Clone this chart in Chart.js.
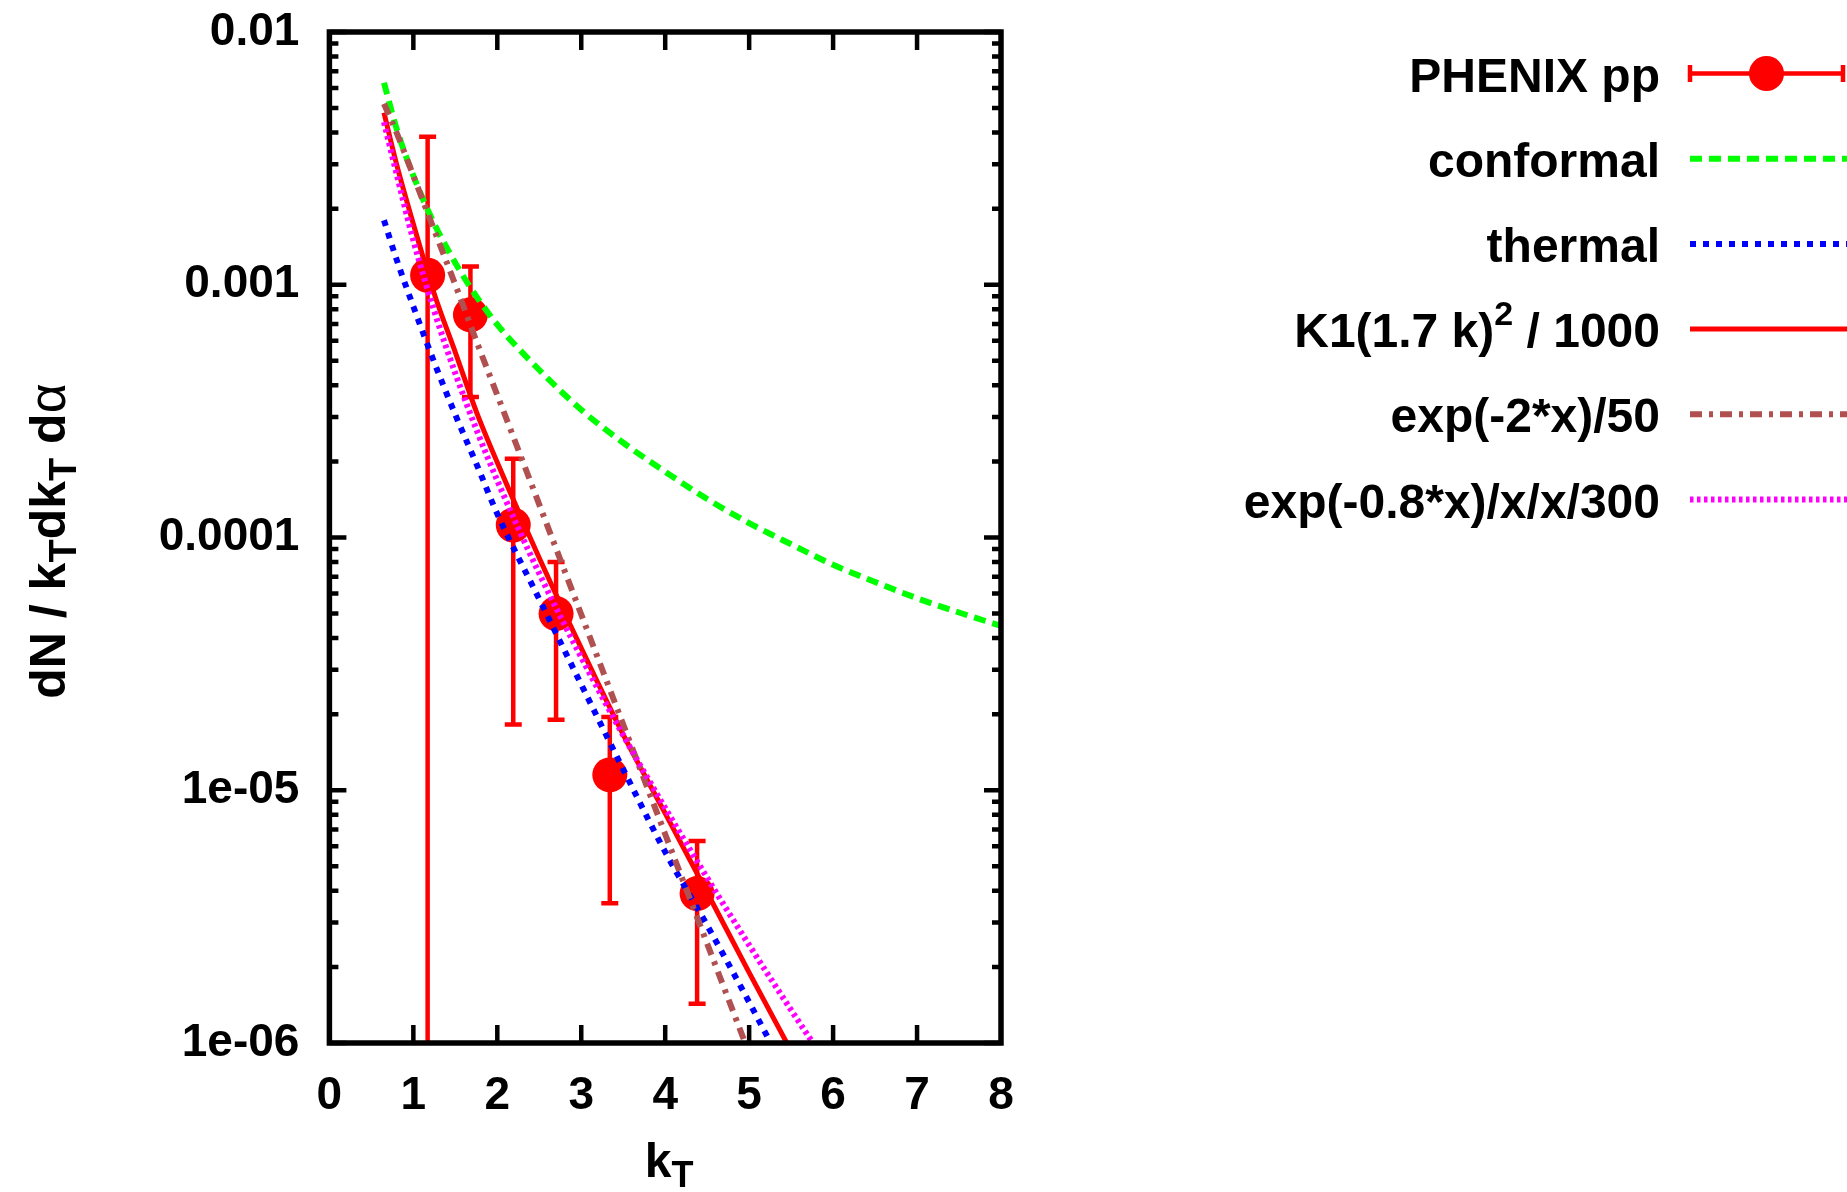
<!DOCTYPE html>
<html>
<head>
<meta charset="utf-8">
<title>dN / kT dkT da</title>
<script src="https://cdn.jsdelivr.net/npm/chart.js@4.4.0/dist/chart.umd.min.js"></script>
<style>
    body { margin: 0; background: #fff; }
    #wrap { width: 1847px; height: 1192px; }
</style>
</head>
<body>
<div id="wrap"><canvas id="ktChart" width="1847" height="1192"></canvas></div>
<script>
// PHENIX pp points (value, upper and lower end of the error bar)
var phenixK = [1.17, 1.68, 2.19, 2.70, 3.34, 4.38];
var phenixVal = [1.09e-3, 7.6e-4, 1.12e-4, 5.0e-5, 1.15e-5, 3.9e-6];
var phenixHi = [3.85e-3, 1.18e-3, 2.05e-4, 8.0e-5, 1.95e-5, 6.3e-6];
var phenixLo = [5e-7, 3.6e-4, 1.82e-5, 1.9e-5, 3.57e-6, 1.43e-6];

// curves at these kT values
var curveK = [0.65, 0.8, 1, 1.25, 1.5, 1.75, 2, 2.5, 3, 3.5, 4, 4.5, 5, 5.5, 6, 6.5, 7, 7.5, 8];
var conformal = [6.3e-3, 4.15e-3, 2.7e-3, 1.74e-3, 1.22e-3, 9.0e-4, 6.95e-4, 4.6e-4, 3.2e-4, 2.37e-4,
    1.82e-4, 1.42e-4, 1.14e-4, 9.4e-5, 7.8e-5, 6.67e-5, 5.75e-5, 5.05e-5, 4.47e-5];
var thermal = [1.8e-3, 1.26e-3, 8.2e-4, 4.92e-4, 3.06e-4, 1.96e-4, 1.24e-4, 5.7e-5, 2.62e-5, 1.21e-5,
    5.7e-6, 2.92e-6, 1.45e-6, 7.0e-7, null, null, null, null, null];
var besselK1 = [4.8e-3, 3.0e-3, 1.74e-3, 9.2e-4, 5.4e-4, 3.15e-4, 1.98e-4, 8.3e-5, 3.65e-5, 1.66e-5,
    8.1e-6, 3.94e-6, 1.9e-6, 9.3e-7, null, null, null, null, null];
var expTwo = [5.2e-3, 4.0e-3, 2.7e-3, 1.64e-3, 1.0e-3, 6.0e-4, 3.66e-4, 1.35e-4, 4.96e-5, 1.82e-5,
    6.7e-6, 2.47e-6, 9.1e-7, null, null, null, null, null, null];
var expPow = [4.4e-3, 2.75e-3, 1.5e-3, 7.85e-4, 4.46e-4, 2.68e-4, 1.68e-4, 7.2e-5, 3.36e-5, 1.65e-5,
    8.5e-6, 4.5e-6, 2.44e-6, 1.35e-6, 7.6e-7, null, null, null, null];

var xTickLabels = ['0', '1', '2', '3', '4', '5', '6', '7', '8'];
var yTickValues = [1e-6, 1e-5, 1e-4, 1e-3, 1e-2];
var yTickLabels = ['1e-06', '1e-05', '0.0001', '0.001', '0.01'];

var legendNames = ['PHENIX pp', 'conformal', 'thermal', 'K1(1.7 k)', 'exp(-2*x)/50', 'exp(-0.8*x)/x/x/300'];

var FONT = '"Liberation Sans", Arial, sans-serif';

function toPoints(xs, ys) {
    var out = [];
    for (var i = 0; i < xs.length; i++) {
        if (ys[i] !== null) out.push({ x: xs[i], y: ys[i] });
    }
    return out;
}

function curve(label, values, color, dash, width, order) {
    return {
        label: label,
        data: toPoints(curveK, values),
        showLine: true,
        borderColor: color,
        borderWidth: width,
        borderDash: dash,
        pointRadius: 0,
        cubicInterpolationMode: 'monotone',
        fill: false,
        clip: 0,
        order: order
    };
}

var datasets = [
    {
        label: legendNames[0],
        data: toPoints(phenixK, phenixVal),
        showLine: false,
        pointRadius: 17.5,
        pointHoverRadius: 17.5,
        pointBackgroundColor: '#ff0000',
        pointBorderWidth: 0,
        order: 6
    },
    curve(legendNames[1], conformal, '#00ff00', [12, 7], 6, 5),
    curve(legendNames[2], thermal, '#0000ff', [6, 7], 6, 4),
    curve(legendNames[3], besselK1, '#ff0000', [], 5, 3),
    curve(legendNames[4], expTwo, '#b05050', [12, 7, 4, 7], 6, 2),
    curve(legendNames[5], expPow, '#ff00ff', [3.5, 3.5], 6, 1)
];

// error bars, under the curves
var errorBars = {
    id: 'errorBars',
    beforeDatasetsDraw: function(chart) {
        var ctx = chart.ctx, ca = chart.chartArea;
        var xs = chart.scales.x, ys = chart.scales.y;
        ctx.save();
        ctx.beginPath();
        ctx.rect(ca.left, ca.top, ca.right - ca.left, ca.bottom - ca.top);
        ctx.clip();
        ctx.strokeStyle = '#ff0000';
        ctx.lineWidth = 4.5;
        for (var i = 0; i < phenixK.length; i++) {
            var px = xs.getPixelForValue(phenixK[i]);
            var top = ys.getPixelForValue(phenixHi[i]);
            var bot = ys.getPixelForValue(phenixLo[i]);
            ctx.beginPath();
            ctx.moveTo(px, top);
            ctx.lineTo(px, bot);
            ctx.moveTo(px - 8.5, top);
            ctx.lineTo(px + 8.5, top);
            ctx.moveTo(px - 8.5, bot);
            ctx.lineTo(px + 8.5, bot);
            ctx.stroke();
        }
        ctx.restore();
    }
};

// gnuplot style frame with inward ticks on all four sides
var frame = {
    id: 'frame',
    afterDatasetsDraw: function(chart) {
        var ctx = chart.ctx, ca = chart.chartArea;
        var xs = chart.scales.x, ys = chart.scales.y;
        ctx.save();
        ctx.strokeStyle = '#000';
        ctx.lineWidth = 4.5;
        ctx.beginPath();
        for (var k = 1; k < 8; k++) {
            var px = xs.getPixelForValue(k);
            ctx.moveTo(px, ca.bottom);
            ctx.lineTo(px, ca.bottom - 18);
            ctx.moveTo(px, ca.top);
            ctx.lineTo(px, ca.top + 18);
        }
        for (var d = -6; d <= -2; d++) {
            for (var m = 1; m <= 9; m++) {
                var v = m * Math.pow(10, d);
                if (v > 1e-2 * 1.0001) break;
                var py = ys.getPixelForValue(v);
                var len = m === 1 ? 17 : 9;
                ctx.moveTo(ca.left, py);
                ctx.lineTo(ca.left + len, py);
                ctx.moveTo(ca.right, py);
                ctx.lineTo(ca.right - len, py);
            }
        }
        ctx.stroke();
        ctx.lineWidth = 5.5;
        ctx.strokeRect(ca.left, ca.top, ca.right - ca.left, ca.bottom - ca.top);
        ctx.restore();
    }
};

// draw a run of [text, size, raise, weight] pieces starting at x
function drawRun(ctx, parts, x, y) {
    for (var i = 0; i < parts.length; i++) {
        var p = parts[i];
        ctx.font = (p[3] || 'bold') + ' ' + p[1] + 'px ' + FONT;
        ctx.fillText(p[0], x, y - p[2]);
        x += ctx.measureText(p[0]).width;
    }
    return x;
}

function runWidth(ctx, parts) {
    var w = 0;
    for (var i = 0; i < parts.length; i++) {
        ctx.font = (parts[i][3] || 'bold') + ' ' + parts[i][1] + 'px ' + FONT;
        w += ctx.measureText(parts[i][0]).width;
    }
    return w;
}

var titlesAndKey = {
    id: 'titlesAndKey',
    afterDraw: function(chart) {
        var ctx = chart.ctx, ca = chart.chartArea;
        ctx.save();
        ctx.fillStyle = '#000';
        ctx.textBaseline = 'alphabetic';
        ctx.textAlign = 'left';

        // x title
        var xt = [['k', 48, 0], ['T', 36, -10]];
        var xw = runWidth(ctx, xt);
        drawRun(ctx, xt, (ca.left + ca.right) / 2 - xw / 2 + 4, 1177);

        // y title, rotated
        var yt = [['dN / k', 50, 0], ['T', 38, -11], ['dk', 50, 0], ['T', 38, -11], [' d', 50, 0], ['\u03b1', 52, 0, 'normal']];
        var yw = runWidth(ctx, yt);
        ctx.save();
        ctx.translate(65, 541);
        ctx.rotate(-Math.PI / 2);
        drawRun(ctx, yt, -yw / 2, 0);
        ctx.restore();

        // key
        var textRight = 1660, s0 = 1690, s1 = 1847;
        var rows = [];
        for (var i = 0; i < 6; i++) rows.push(73.5 + i * 85.2);
        var keyText = [
            [[legendNames[0], 48, 0]],
            [[legendNames[1], 48, 0]],
            [[legendNames[2], 48, 0]],
            [[legendNames[3], 48, 0], ['2', 34, 22], [' / 1000', 48, 0]],
            [[legendNames[4], 48, 0]],
            [[legendNames[5], 48, 0]]
        ];
        for (var r = 0; r < 6; r++) {
            var w = runWidth(ctx, keyText[r]);
            drawRun(ctx, keyText[r], textRight - w, rows[r] + 18);
        }

        // key samples
        ctx.strokeStyle = '#ff0000';
        ctx.lineWidth = 4.5;
        ctx.beginPath();
        ctx.moveTo(s0, rows[0]);
        ctx.lineTo(1843, rows[0]);
        ctx.moveTo(s0, rows[0] - 8.5);
        ctx.lineTo(s0, rows[0] + 8.5);
        ctx.moveTo(1843, rows[0] - 8.5);
        ctx.lineTo(1843, rows[0] + 8.5);
        ctx.stroke();
        ctx.fillStyle = '#ff0000';
        ctx.beginPath();
        ctx.arc(1766.5, rows[0], 17.5, 0, Math.PI * 2);
        ctx.fill();

        for (var j = 1; j < 6; j++) {
            var ds = chart.data.datasets[j];
            ctx.strokeStyle = ds.borderColor;
            ctx.lineWidth = ds.borderWidth;
            ctx.setLineDash(ds.borderDash);
            ctx.beginPath();
            ctx.moveTo(s0, rows[j]);
            ctx.lineTo(s1, rows[j]);
            ctx.stroke();
        }
        ctx.restore();
    }
};

const ctx = document.getElementById('ktChart');
const ktChart = new Chart(ctx, {
    type: 'scatter',
    data: { datasets: datasets },
    options: {
        responsive: false,
        animation: false,
        events: [],
        layout: {
            padding: { top: 32, right: 846, left: 0, bottom: 0 }
        },
        scales: {
            x: {
                type: 'linear',
                min: 0,
                max: 8,
                grid: { display: false, drawTicks: false },
                border: { display: false },
                ticks: {
                    stepSize: 1,
                    autoSkip: false,
                    maxRotation: 0,
                    padding: 26,
                    color: '#000',
                    font: { family: FONT, size: 46, weight: 'bold' },
                    callback: function(value, index) { return xTickLabels[index]; }
                },
                afterFit: function(s) {
                    s.height = 149;
                    s.paddingLeft = 0;
                    s.paddingRight = 0;
                }
            },
            y: {
                type: 'logarithmic',
                min: 1e-6,
                max: 1e-2,
                grid: { display: false, drawTicks: false },
                border: { display: false },
                afterBuildTicks: function(s) {
                    s.ticks = yTickValues.map(function(v) { return { value: v }; });
                },
                ticks: {
                    autoSkip: false,
                    padding: 30,
                    color: '#000',
                    font: { family: FONT, size: 46, weight: 'bold' },
                    callback: function(value, index) { return yTickLabels[index]; }
                },
                afterFit: function(s) {
                    s.width = 329.4;
                    s.paddingTop = 0;
                    s.paddingBottom = 0;
                }
            }
        },
        plugins: {
            legend: { display: false },
            tooltip: { enabled: false }
        }
    },
    plugins: [errorBars, frame, titlesAndKey]
});
</script>
</body>
</html>
